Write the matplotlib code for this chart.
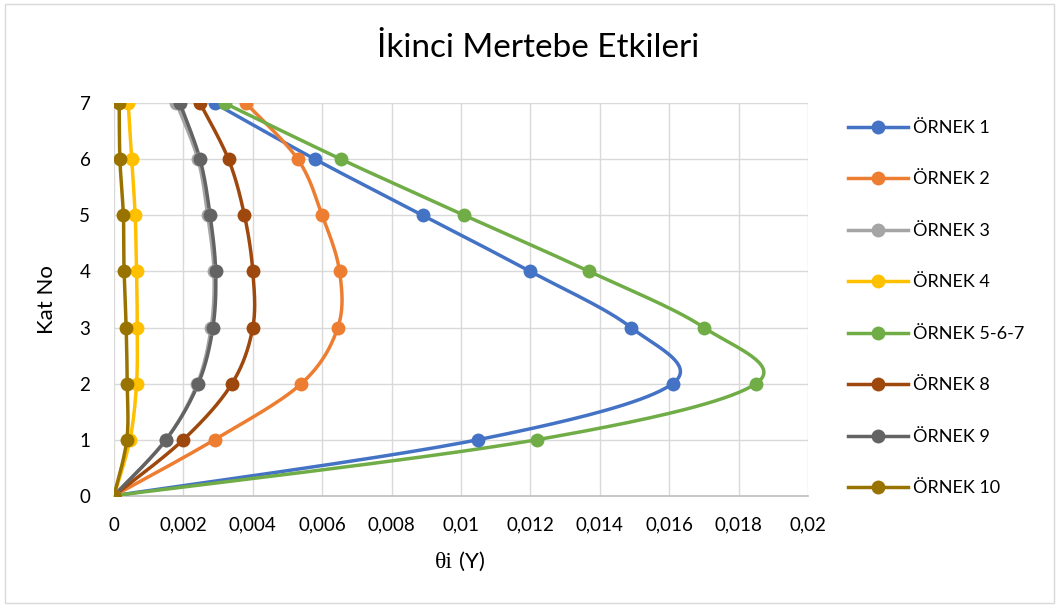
import numpy as np
import matplotlib
matplotlib.use("Agg")
import matplotlib.pyplot as plt
from matplotlib.lines import Line2D
from matplotlib.patches import Rectangle
from matplotlib.ticker import FuncFormatter, MultipleLocator

plt.rcParams['font.family'] = ['Lato', 'DejaVu Sans']

# Storey numbers and inter-storey drift ratios for each example
kat_no = [0, 1, 2, 3, 4, 5, 6, 7]
ornek_1 = [0, 0.0105, 0.0161, 0.0149, 0.0120, 0.0089, 0.0058, 0.0029]
ornek_2 = [0, 0.0029, 0.0054, 0.00645, 0.0065, 0.0060, 0.0053, 0.0038]
ornek_3 = [0, 0.0015, 0.0024, 0.0028, 0.00288, 0.0027, 0.00242, 0.0018]
ornek_4 = [0, 0.00046, 0.00065, 0.00067, 0.00065, 0.00061, 0.00051, 0.00041]
ornek_567 = [0, 0.0122, 0.0185, 0.0170, 0.0137, 0.0101, 0.00655, 0.0032]
ornek_8 = [0, 0.0020, 0.0034, 0.0040, 0.0040, 0.00376, 0.0033, 0.00248]
ornek_9 = [0, 0.0015, 0.00243, 0.00285, 0.00293, 0.00277, 0.00248, 0.0019]
ornek_10 = [0, 0.00037, 0.00038, 0.00035, 0.00029, 0.00027, 0.00017, 0.00015]

series_names = ["ÖRNEK 1", "ÖRNEK 2", "ÖRNEK 3", "ÖRNEK 4", "ÖRNEK 5-6-7",
                "ÖRNEK 8", "ÖRNEK 9", "ÖRNEK 10"]
series_values = [ornek_1, ornek_2, ornek_3, ornek_4, ornek_567,
                 ornek_8, ornek_9, ornek_10]
series_colors = ["#4472C4", "#ED7D31", "#A5A5A5", "#FFC000", "#70AD47",
                 "#9E480E", "#636363", "#997300"]

x_ticks = [0, 0.002, 0.004, 0.006, 0.008, 0.01, 0.012, 0.014, 0.016, 0.018, 0.02]


def smooth_curve(xs, ys, n=40):
    """Cardinal (Catmull-Rom) Bezier smoothing through every point."""
    pts = np.column_stack([xs, ys]).astype(float)
    ext = np.vstack([pts[0], pts, pts[-1]])
    t = np.linspace(0, 1, n)[:, None]
    parts = []
    for i in range(len(pts) - 1):
        p0, p1, p2, p3 = ext[i], ext[i + 1], ext[i + 2], ext[i + 3]
        c1 = p1 + (p2 - p0) / 6.0
        c2 = p2 - (p3 - p1) / 6.0
        seg = ((1 - t) ** 3) * p1 + 3 * ((1 - t) ** 2) * t * c1 \
            + 3 * (1 - t) * (t ** 2) * c2 + (t ** 3) * p2
        parts.append(seg if i == 0 else seg[1:])
    curve = np.vstack(parts)
    return curve[:, 0], curve[:, 1]


W, H, DPI = 1060, 606, 100
fig = plt.figure(figsize=(W / DPI, H / DPI), dpi=DPI)
fig.patch.set_facecolor("white")

# chart border
fig.patches.append(Rectangle((5 / W, 3 / H), 1049 / W, 599 / H,
                             transform=fig.transFigure, fill=False,
                             edgecolor="#D9D9D9", linewidth=1.0))

left, right, top, bottom = 114, 808, 103.3, 495.7
ax = fig.add_axes([left / W, 1 - bottom / H, (right - left) / W, (bottom - top) / H])

lw = 2.5
ms = 10
handles = []
for name, vals, col in zip(series_names, series_values, series_colors):
    sx, sy = smooth_curve(vals, kat_no)
    ax.plot(sx, sy, color=col, linewidth=lw, solid_capstyle="round", zorder=3)
    ax.plot(vals, kat_no, linestyle="none", marker="o", markersize=ms,
            color=col, markeredgewidth=0, zorder=4)
    handles.append(Line2D([], [], color=col, linewidth=lw, marker="o",
                          markersize=ms, markeredgewidth=0))

ax.set_xlim(0, 0.02)
ax.set_ylim(0, 7)
ax.set_xticks(x_ticks)
ax.yaxis.set_major_locator(MultipleLocator(1))
ax.xaxis.set_major_formatter(FuncFormatter(lambda v, p: f"{v:g}".replace(".", ",")))
ax.grid(True, color="#D9D9D9", linewidth=1.0, zorder=0)
ax.set_axisbelow(True)
for s in ["top", "right", "left"]:
    ax.spines[s].set_visible(False)
ax.spines["bottom"].set_color("#BFBFBF")
ax.spines["bottom"].set_linewidth(1.2)
ax.tick_params(axis="both", length=0, labelsize=13.5, colors="#000000")
ax.tick_params(axis="x", pad=15)
ax.tick_params(axis="y", pad=17)

ax.set_ylabel("Kat No", fontsize=16, labelpad=16)

# horizontal axis title: serif theta, sans parenthesis
fig.text(444 / W, 1 - 562 / H, "θi", fontsize=17, family=["Liberation Serif"],
         ha="center", va="center")
fig.text(472 / W, 1 - 562 / H, "(Y)", fontsize=16, ha="center", va="center")

fig.text(538 / W, 1 - 48 / H, "İkinci Mertebe Etkileri", fontsize=24,
         ha="center", va="center", color="#000000")

fig.legend(handles, series_names, loc="upper left",
           bbox_to_anchor=(848 / W, 1 - 120 / H), frameon=False,
           fontsize=13, handlelength=3.3, handletextpad=0.28,
           labelspacing=1.965, borderaxespad=0, borderpad=0)

fig.savefig("out.png", dpi=DPI, facecolor="white")
